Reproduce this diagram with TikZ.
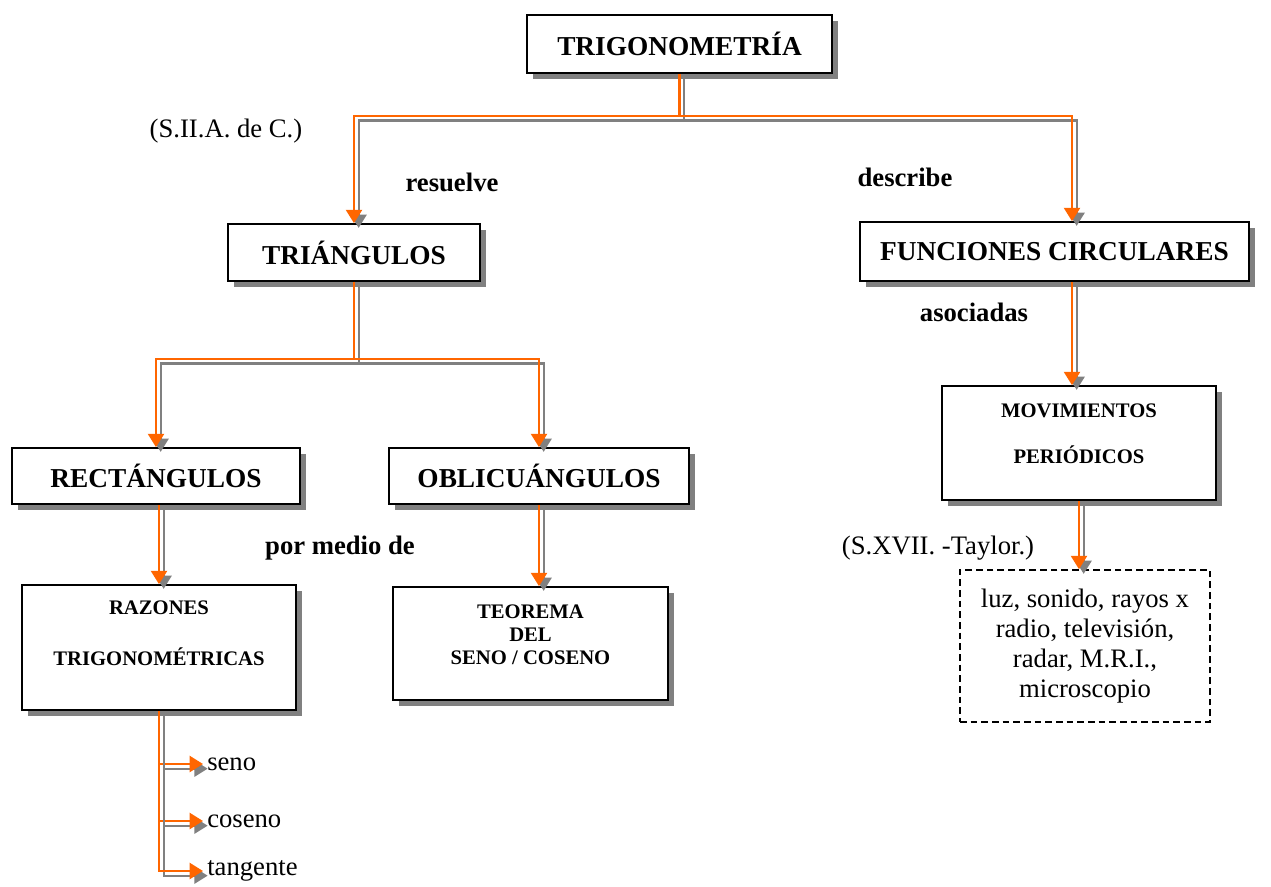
\documentclass[tikz,border=0pt]{standalone}
\usepackage{fontspec}
\setmainfont{Liberation Serif}
\usetikzlibrary{arrows.meta, shadows, calc}
\definecolor{linkorange}{HTML}{FF6600}

\begin{document}
\begin{tikzpicture}[x=0.75pt, y=-0.75pt,
    box/.style={draw=black, line width=1.2pt, fill=white, align=center, inner sep=0pt,
        drop shadow={shadow xshift=4.5pt, shadow yshift=-4.5pt, fill=gray, opacity=1},
        font=\fontsize{20.5}{24}\selectfont\bfseries},
    smallbox/.style={box, font=\fontsize{15.5}{#1}\selectfont\bfseries},
    notebox/.style={draw=black, line width=1.2pt, dash pattern=on 5pt off 3pt, align=center,
        inner sep=0pt, font=\fontsize{20}{22.5}\selectfont},
    lbl/.style={font=\fontsize{20}{24}\selectfont},
    verb/.style={font=\fontsize{20}{24}\selectfont\bfseries},
    leaf/.style={lbl, anchor=west, inner sep=3pt},
    conn/.style={draw=linkorange, line width=1.7pt, -{Triangle[width=12pt,length=10pt]},
        preaction={draw=gray, line width=1.7pt, transform canvas={xshift=3.5pt, yshift=-3.5pt}}}]
    \useasboundingbox (0,0) rectangle (1271,887);

    % 方框
    \node[box, minimum width=228.75pt, minimum height=43.5pt] (trig) at (679.5,44) {TRIGONOMETRÍA};
    \node[box, minimum width=189pt, minimum height=42.75pt] (tri) at (354,252.5) {TRIÁNGULOS};
    \node[box, minimum width=291.75pt, minimum height=44.25pt] (func) at (1054.5,251.5) {FUNCIONES CIRCULARES};
    \node[box, minimum width=216pt, minimum height=42pt] (rect) at (156,476) {RECTÁNGULOS};
    \node[box, minimum width=225pt, minimum height=42pt] (obli) at (539,476) {OBLICUÁNGULOS};
    \node[smallbox=38, text depth=22pt, minimum width=205.5pt, minimum height=93.75pt] (raz) at (159,647.5)
        {RAZONES\\TRIGONOMÉTRICAS};
    \node[smallbox=17.25, text depth=13pt, minimum width=206.25pt, minimum height=84.75pt] (teo) at (530.5,643.5)
        {TEOREMA\\DEL\\SENO / COSENO};
    \node[smallbox=35, text depth=14pt, minimum width=205.5pt, minimum height=85.5pt] (mov) at (1079,443)
        {MOVIMIENTOS\\PERIÓDICOS};
    \node[notebox, minimum width=187.5pt, minimum height=114pt] (apps) at (1085,646)
        {luz, sonido, rayos x\\radio, televisión,\\radar, M.R.I.,\\microscopio};

    % 标注
    \node[lbl] (siglo2) at (226,131) {(S.II.A. de C.)};
    \node[lbl] (siglo17) at (938,548) {(S.XVII. -Taylor.)};
    \node[verb] (resuelve) at (452,182) {resuelve};
    \node[verb] (describe) at (905,177) {describe};
    \node[verb] (asociadas) at (974,312) {asociadas};
    \node[verb] (pormedio) at (340,548) {por medio de};

    \node[leaf] (seno) at (203,764) {seno};
    \node[leaf] (coseno) at (203,821) {coseno};
    \node[leaf] (tangente) at (203,871) {tangente};

    % 连线
    \coordinate (fin) at ($(func.north)+(17.5,0)$);
    \draw[conn] (trig.south) -- ++(0,42) -| (tri.north);
    \draw[conn] (trig.south) -- ++(0,42) -| (fin);
    \draw[conn] (tri.south) -- ++(0,77) -| (rect.north);
    \draw[conn] (tri.south) -- ++(0,77) -| (obli.north);
    \draw[conn] (rect.south -| raz.north) -- (raz.north);
    \draw[conn] (obli.south) -- (obli.south |- teo.north);
    \draw[conn] (func.south -| fin) -- (mov.north -| fin);
    \draw[conn] (mov.south) -- (mov.south |- apps.north);
    \foreach \t in {seno, coseno, tangente}
        \draw[conn] (raz.south) |- (\t.west);

\end{tikzpicture}
\end{document}
